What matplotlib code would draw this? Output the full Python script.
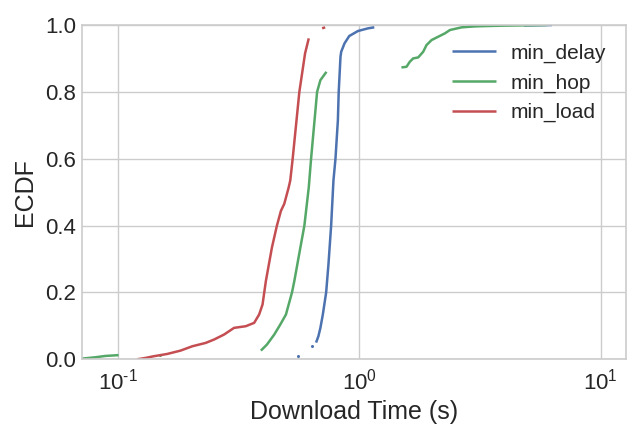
import numpy as np
import matplotlib
matplotlib.use("Agg")
import matplotlib.pyplot as plt
from matplotlib.ticker import FuncFormatter

nan = np.nan

# min_delay ECDF (download time in s, cumulative fraction); NaN marks gaps
delay_x = [0.5576, nan, 0.6375, nan, 0.6624, 0.6772, 0.6903, 0.7065, 0.7292, 0.7454, 0.7647,
           0.7818, 0.7970, 0.8155, 0.8220, 0.8360, 0.8418, 0.8687, 0.9088, 0.9876,
           1.087, 1.154, nan, 2.839, 3.3, nan, 4.8, 6.285]
delay_y = [0.009, nan, 0.040, nan, 0.050, 0.069, 0.094, 0.134, 0.200, 0.284, 0.400,
           0.535, 0.600, 0.715, 0.800, 0.905, 0.920, 0.945, 0.967, 0.982,
           0.990, 0.993, nan, 0.997, 0.998, nan, 0.999, 1.000]

# min_hop ECDF
hop_x = [0.066, 0.0709, 0.0806, 0.0887, 0.1008, nan, 0.1492, nan,
         0.3914, 0.4145, 0.4445, 0.4709, 0.4970, 0.5265, 0.5383, 0.5702, 0.5925,
         0.6178, 0.6316, 0.6689, 0.6903, 0.7313, nan,
         1.495, 1.569, 1.619, 1.672, 1.754, 1.840, 1.899, 1.993, 2.124, 2.263,
         2.374, 2.656, 3.016, 3.894, 5.99]
hop_y = [0.000, 0.002, 0.006, 0.010, 0.0125, nan, 0.014, nan,
         0.026, 0.044, 0.074, 0.104, 0.134, 0.200, 0.234, 0.334, 0.400,
         0.514, 0.600, 0.800, 0.835, 0.860, nan,
         0.873, 0.875, 0.890, 0.900, 0.903, 0.920, 0.940, 0.955, 0.965, 0.975,
         0.985, 0.993, 0.996, 0.998, 1.000]

# min_load ECDF
load_x = [0.1202, 0.1301, 0.1405, 0.1602, 0.1819, 0.2035, 0.2311, 0.2502, 0.2754,
          0.3030, 0.3389, 0.3670, 0.3849, 0.3976, 0.4104, 0.4347, 0.4560, 0.4738,
          0.4891, 0.5101, 0.5179, 0.5299, 0.5648, 0.5964, 0.6178, nan, 0.7017, 0.7223]
load_y = [0.000, 0.004, 0.009, 0.016, 0.026, 0.039, 0.049, 0.059, 0.074,
          0.094, 0.099, 0.109, 0.134, 0.164, 0.234, 0.334, 0.400, 0.444,
          0.465, 0.514, 0.535, 0.600, 0.800, 0.915, 0.960, nan, 0.990, 0.993]

labels = ["min_delay", "min_hop", "min_load"]
colors = ["#4C72B0", "#55A868", "#C44E52"]
x_ticks = [0.1, 1.0, 10.0]

plt.rcParams["font.family"] = ["Liberation Sans", "DejaVu Sans"]
plt.rcParams["mathtext.fontset"] = "custom"
plt.rcParams["mathtext.rm"] = "Liberation Sans"
plt.rcParams["mathtext.it"] = "Liberation Sans:italic"
plt.rcParams["mathtext.bf"] = "Liberation Sans:bold"
plt.rcParams["axes.unicode_minus"] = False

fig = plt.figure(figsize=(6.4, 4.4), dpi=100)
ax = fig.add_axes([0.1277, 0.1834, 0.8500, 0.7598])


def isolated(ys):
    """Indices of points with no valid neighbour (drawn as dots)."""
    a = np.asarray(ys, dtype=float)
    ok = ~np.isnan(a)
    idx = []
    for i in range(len(a)):
        if not ok[i]:
            continue
        left = i > 0 and ok[i - 1]
        right = i < len(a) - 1 and ok[i + 1]
        if not left and not right:
            idx.append(i)
    return idx


for xs, ys, lab, c in zip([delay_x, hop_x, load_x], [delay_y, hop_y, load_y], labels, colors):
    ax.plot(xs, ys, color=c, lw=1.8, label=lab, solid_capstyle="butt")
    iso = isolated(ys)
    if iso:
        ax.plot(np.asarray(xs)[iso], np.asarray(ys)[iso], ls="none", marker="o",
                ms=2.2, mew=0, color=c)

ax.set_xscale("log")
ax.set_xlim(0.0709, 12.69)
ax.set_ylim(0, 1.0)
ax.set_xticks(x_ticks)


def fmt(v, pos):
    e = int(round(np.log10(v)))
    if e < 0:
        return r"$\mathregular{10^{\text{-}%d}}$" % (-e)
    return r"$\mathregular{10^{%d}}$" % e


ax.xaxis.set_major_formatter(FuncFormatter(fmt))
ax.set_yticks([0.0, 0.2, 0.4, 0.6, 0.8, 1.0])
ax.set_yticklabels(["0.0", "0.2", "0.4", "0.6", "0.8", "1.0"])
ax.minorticks_off()

text_c = "#262626"
ax.grid(True, color="#cccccc", lw=1)
ax.set_axisbelow(True)
for s in ax.spines.values():
    s.set_color("#cccccc")
    s.set_linewidth(1.2)
ax.tick_params(axis="both", length=0, labelsize=16, colors=text_c)
ax.tick_params(axis="y", pad=4)
ax.tick_params(axis="x", pad=7)
ax.set_xlabel("Download Time (s)", fontsize=18, color=text_c, labelpad=4)
ax.set_ylabel("ECDF", fontsize=18, color=text_c, labelpad=6)

leg = ax.legend(loc="upper right", frameon=False, fontsize=15, handlelength=2.1,
                handletextpad=0.7, bbox_to_anchor=(0.998, 1.0), labelspacing=0.5)
for t in leg.get_texts():
    t.set_color(text_c)

fig.savefig("out.png", dpi=100)
